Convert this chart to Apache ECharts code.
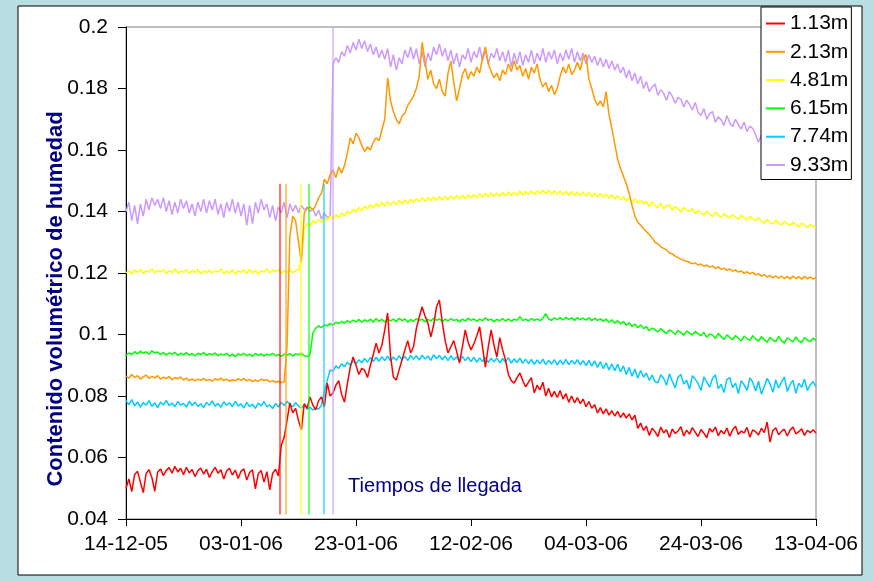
<!DOCTYPE html>
<html><head><meta charset="utf-8">
<script src="https://cdn.jsdelivr.net/npm/echarts@6/dist/echarts.min.js"></script>
<style>html,body{margin:0;padding:0;background:#B9DEE2;}#c{width:874px;height:581px;}</style>
</head><body><div id="c"></div>
<script>
// x axis: days since 14-12-05, one sample every half day
const xTickLabels = ['14-12-05','03-01-06','23-01-06','12-02-06','04-03-06','24-03-06','13-04-06'];
const sampleStep = 0.5;
const seriesNames = ['1.13m','2.13m','4.81m','6.15m','7.74m','9.33m'];
const seriesColors = ['#FF0000','#FF9900','#FFFF00','#00FF00','#00CCFF','#CC99FF'];

const s113 = [
.0500,.0530,.0489,.0545,.0555,.0520,.0486,.0548,.0560,.0535,.0490,.0552,.0563,.0541,.0558,.0567,.0549,.0571,.0553,.0565,
.0544,.0568,.0550,.0561,.0538,.0557,.0566,.0546,.0562,.0535,.0554,.0568,.0549,.0560,.0530,.0556,.0565,.0543,.0559,.0532,
.0555,.0563,.0527,.0551,.0560,.0498,.0547,.0558,.0520,.0554,.0495,.0548,.0562,.0540,.0640,.0665,.0720,.0777,.0745,.0760,
.0720,.0690,.0775,.0760,.0797,.0770,.0755,.0785,.0797,.0765,.0842,.0800,.0810,.0835,.0850,.0805,.0780,.0840,.0894,.0927,
.0900,.0870,.0890,.0884,.0860,.0900,.0935,.0972,.0940,.0965,.1015,.1070,.0930,.0862,.0852,.0885,.0917,.0950,.0980,.0940,
.0960,.1020,.1057,.1090,.1060,.1037,.0992,.1030,.1090,.1112,.1040,.0980,.0940,.0960,.0980,.0945,.0907,.0960,.1015,.0975,
.0950,.0970,.0995,.1025,.0960,.0894,.0960,.1015,.0965,.0927,.0990,.0950,.0917,.0870,.0850,.0842,.0860,.0875,.0850,.0830,
.0845,.0860,.0810,.0835,.0820,.0845,.0800,.0825,.0797,.0815,.0795,.0818,.0790,.0808,.0780,.0800,.0778,.0795,.0775,.0790,
.0765,.0782,.0760,.0772,.0745,.0762,.0742,.0758,.0738,.0752,.0735,.0750,.0730,.0745,.0728,.0742,.0722,.0738,.0695,.0712,
.0688,.0702,.0672,.0695,.0684,.0668,.0699,.0680,.0690,.0665,.0693,.0678,.0686,.0700,.0670,.0689,.0676,.0697,.0682,.0668,
.0691,.0679,.0664,.0694,.0683,.0699,.0671,.0688,.0677,.0696,.0669,.0690,.0702,.0675,.0686,.0680,.0698,.0666,.0690,.0684,
.0673,.0695,.0681,.0715,.0650,.0688,.0697,.0674,.0685,.0692,.0670,.0689,.0699,.0677,.0684,.0693,.0672,.0688,.0681,.0690,
.0680];

const s213 = [
.0865,.0858,.0870,.0860,.0866,.0855,.0862,.0868,.0857,.0864,.0859,.0866,.0855,.0861,.0857,.0863,.0853,.0860,.0856,.0862,
.0852,.0858,.0850,.0856,.0849,.0855,.0851,.0857,.0850,.0854,.0848,.0856,.0852,.0858,.0850,.0855,.0848,.0853,.0849,.0856,
.0851,.0857,.0849,.0854,.0847,.0852,.0848,.0855,.0850,.0853,.0846,.0850,.0844,.0848,.0843,.0846,.0960,.1320,.1385,.1370,
.1300,.1235,.1395,.1410,.1415,.1405,.1420,.1445,.1460,.1505,.1490,.1520,.1535,.1510,.1545,.1525,.1550,.1590,.1640,.1620,
.1655,.1640,.1615,.1595,.1610,.1600,.1625,.1640,.1630,.1665,.1700,.1835,.1760,.1725,.1700,.1685,.1710,.1720,.1745,.1760,
.1775,.1800,.1840,.1950,.1890,.1830,.1860,.1815,.1800,.1830,.1790,.1775,.1850,.1890,.1820,.1760,.1800,.1845,.1865,.1830,
.1855,.1840,.1870,.1850,.1900,.1935,.1880,.1855,.1835,.1850,.1825,.1860,.1845,.1880,.1855,.1890,.1860,.1875,.1840,.1865,
.1830,.1870,.1850,.1880,.1830,.1805,.1820,.1790,.1810,.1780,.1800,.1840,.1870,.1850,.1880,.1845,.1860,.1885,.1860,.1900,
.1910,.1830,.1800,.1765,.1745,.1760,.1740,.1790,.1715,.1670,.1620,.1570,.1540,.1515,.1490,.1460,.1420,.1385,.1365,.1355,
.1345,.1335,.1325,.1315,.1300,.1295,.1285,.1280,.1275,.1265,.1262,.1255,.1250,.1245,.1241,.1238,.1235,.1230,.1233,.1226,
.1229,.1222,.1226,.1219,.1223,.1215,.1220,.1212,.1216,.1209,.1213,.1206,.1210,.1203,.1207,.1199,.1204,.1197,.1202,.1194,
.1198,.1190,.1195,.1187,.1192,.1184,.1191,.1183,.1190,.1182,.1189,.1181,.1190,.1182,.1188,.1180,.1189,.1181,.1187,.1180,
.1185];

const s481 = [
.1200,.1208,.1196,.1210,.1202,.1212,.1199,.1207,.1203,.1214,.1200,.1209,.1204,.1211,.1198,.1208,.1201,.1213,.1200,.1206,
.1203,.1211,.1198,.1209,.1202,.1212,.1197,.1207,.1201,.1210,.1199,.1208,.1203,.1213,.1198,.1206,.1200,.1211,.1197,.1208,
.1202,.1210,.1199,.1212,.1201,.1208,.1196,.1207,.1203,.1213,.1200,.1209,.1204,.1211,.1199,.1207,.1202,.1212,.1200,.1208,
.1210,.1250,.1345,.1360,.1355,.1370,.1362,.1375,.1365,.1380,.1372,.1385,.1375,.1390,.1380,.1395,.1385,.1400,.1393,.1408,
.1398,.1413,.1402,.1418,.1408,.1422,.1412,.1426,.1415,.1430,.1418,.1432,.1420,.1433,.1422,.1436,.1425,.1438,.1427,.1440,
.1430,.1442,.1432,.1445,.1433,.1446,.1435,.1447,.1436,.1448,.1437,.1450,.1438,.1451,.1440,.1452,.1441,.1453,.1442,.1455,
.1444,.1456,.1445,.1458,.1446,.1459,.1448,.1461,.1449,.1460,.1450,.1462,.1451,.1464,.1452,.1463,.1453,.1466,.1454,.1465,
.1455,.1467,.1456,.1468,.1457,.1470,.1458,.1469,.1456,.1468,.1455,.1467,.1454,.1466,.1453,.1465,.1452,.1464,.1451,.1463,
.1450,.1462,.1449,.1460,.1447,.1459,.1446,.1457,.1444,.1455,.1441,.1452,.1438,.1448,.1434,.1445,.1430,.1441,.1427,.1437,
.1425,.1433,.1416,.1431,.1420,.1412,.1427,.1409,.1418,.1422,.1404,.1416,.1410,.1398,.1413,.1405,.1401,.1410,.1393,.1403,
.1396,.1388,.1401,.1392,.1383,.1397,.1389,.1380,.1393,.1385,.1378,.1390,.1382,.1375,.1388,.1379,.1372,.1384,.1376,.1370,
.1380,.1368,.1362,.1374,.1365,.1359,.1371,.1363,.1356,.1368,.1360,.1354,.1366,.1357,.1351,.1362,.1355,.1348,.1358,.1352,
.1348];

const s615 = [
.0932,.0940,.0935,.0944,.0937,.0946,.0939,.0944,.0936,.0947,.0940,.0943,.0935,.0941,.0933,.0940,.0936,.0942,.0932,.0939,
.0934,.0941,.0933,.0938,.0930,.0939,.0935,.0941,.0932,.0938,.0934,.0940,.0931,.0937,.0933,.0939,.0930,.0936,.0928,.0937,
.0933,.0939,.0931,.0936,.0929,.0938,.0932,.0937,.0930,.0936,.0933,.0939,.0931,.0935,.0929,.0936,.0932,.0938,.0930,.0937,
.0934,.0940,.0931,.0928,.0935,.1005,.1020,.1028,.1022,.1032,.1028,.1036,.1030,.1040,.1035,.1043,.1037,.1045,.1039,.1047,
.1041,.1049,.1040,.1048,.1042,.1050,.1040,.1052,.1043,.1049,.1041,.1051,.1044,.1050,.1042,.1053,.1045,.1051,.1040,.1049,
.1043,.1052,.1045,.1050,.1041,.1049,.1044,.1053,.1046,.1051,.1042,.1050,.1044,.1052,.1045,.1049,.1041,.1050,.1044,.1053,
.1046,.1051,.1043,.1050,.1045,.1054,.1046,.1050,.1042,.1049,.1045,.1052,.1044,.1051,.1043,.1050,.1046,.1058,.1045,.1050,
.1044,.1052,.1046,.1051,.1045,.1053,.1068,.1050,.1046,.1054,.1048,.1055,.1047,.1056,.1049,.1054,.1046,.1055,.1048,.1053,
.1047,.1054,.1045,.1053,.1046,.1051,.1043,.1050,.1040,.1048,.1037,.1045,.1034,.1042,.1030,.1038,.1026,.1034,.1022,.1031,
.1019,.1026,.1012,.1021,.1016,.1008,.1019,.1011,.1003,.1015,.1009,.1001,.1013,.1006,.0998,.1012,.1004,.0999,.1010,.1002,
.0996,.1007,.0991,.1002,.0998,.0987,.1004,.0993,.0984,.0999,.0990,.0983,.0997,.0988,.0979,.0995,.0986,.0981,.0996,.0985,
.0978,.0993,.0984,.0975,.0991,.0982,.0977,.0994,.0980,.0972,.0989,.0983,.0976,.0992,.0979,.0974,.0990,.0982,.0977,.0988,
.0981];

const s774 = [
.0785,.0772,.0788,.0768,.0781,.0764,.0779,.0770,.0785,.0766,.0778,.0762,.0780,.0771,.0786,.0769,.0777,.0765,.0782,.0770,
.0776,.0764,.0783,.0769,.0780,.0766,.0775,.0762,.0779,.0770,.0784,.0767,.0776,.0763,.0781,.0770,.0778,.0765,.0783,.0768,
.0774,.0761,.0779,.0766,.0773,.0760,.0777,.0768,.0782,.0765,.0771,.0759,.0776,.0764,.0780,.0769,.0783,.0772,.0765,.0778,
.0768,.0760,.0772,.0757,.0763,.0755,.0760,.0758,.0770,.0815,.0850,.0885,.0880,.0898,.0890,.0905,.0895,.0910,.0900,.0915,
.0905,.0918,.0908,.0922,.0910,.0925,.0912,.0926,.0913,.0928,.0915,.0930,.0914,.0927,.0916,.0931,.0918,.0929,.0915,.0932,
.0919,.0931,.0917,.0933,.0920,.0930,.0916,.0934,.0921,.0932,.0918,.0930,.0915,.0931,.0917,.0928,.0913,.0929,.0915,.0927,
.0912,.0926,.0910,.0924,.0912,.0925,.0909,.0923,.0911,.0924,.0908,.0922,.0910,.0925,.0907,.0921,.0909,.0923,.0906,.0920,
.0905,.0919,.0903,.0917,.0905,.0920,.0902,.0916,.0904,.0918,.0901,.0917,.0903,.0919,.0902,.0916,.0904,.0918,.0901,.0915,
.0899,.0916,.0897,.0914,.0893,.0912,.0889,.0908,.0885,.0905,.0882,.0903,.0878,.0898,.0870,.0893,.0864,.0888,.0858,.0883,
.0862,.0874,.0851,.0868,.0846,.0843,.0869,.0858,.0835,.0872,.0848,.0826,.0861,.0870,.0839,.0851,.0822,.0866,.0855,.0840,
.0818,.0862,.0846,.0829,.0857,.0869,.0824,.0838,.0811,.0853,.0860,.0827,.0842,.0808,.0850,.0836,.0818,.0859,.0845,.0816,
.0848,.0806,.0831,.0857,.0840,.0812,.0852,.0826,.0845,.0862,.0815,.0838,.0851,.0809,.0842,.0828,.0855,.0818,.0836,.0847,
.0830];

const s933 = [
.1400,.1430,.1370,.1420,.1360,.1425,.1385,.1440,.1405,.1445,.1420,.1440,.1410,.1445,.1400,.1435,.1390,.1430,.1395,.1440,
.1410,.1435,.1395,.1425,.1385,.1430,.1400,.1440,.1395,.1435,.1405,.1440,.1390,.1425,.1380,.1430,.1400,.1440,.1395,.1430,
.1385,.1425,.1355,.1420,.1360,.1430,.1395,.1440,.1405,.1425,.1380,.1420,.1370,.1415,.1395,.1430,.1380,.1425,.1400,.1420,
.1395,.1420,.1405,.1415,.1400,.1410,.1385,.1405,.1375,.1395,.1380,.1385,.1880,.1900,.1885,.1920,.1905,.1940,.1915,.1950,
.1925,.1960,.1930,.1955,.1920,.1945,.1910,.1935,.1900,.1925,.1895,.1930,.1870,.1910,.1860,.1900,.1880,.1925,.1900,.1935,
.1895,.1930,.1880,.1920,.1870,.1915,.1890,.1935,.1910,.1945,.1905,.1930,.1890,.1925,.1880,.1915,.1870,.1910,.1895,.1930,
.1885,.1920,.1900,.1935,.1890,.1925,.1880,.1915,.1900,.1930,.1890,.1920,.1885,.1925,.1870,.1915,.1880,.1920,.1875,.1910,
.1885,.1925,.1880,.1915,.1890,.1930,.1885,.1920,.1895,.1925,.1880,.1915,.1890,.1925,.1895,.1930,.1885,.1920,.1890,.1915,
.1880,.1910,.1885,.1905,.1875,.1900,.1870,.1895,.1865,.1890,.1860,.1880,.1850,.1870,.1835,.1860,.1825,.1850,.1815,.1840,
.1800,.1822,.1790,.1805,.1815,.1778,.1796,.1785,.1762,.1790,.1775,.1752,.1771,.1765,.1740,.1762,.1748,.1730,.1755,.1722,
.1712,.1735,.1700,.1718,.1725,.1690,.1708,.1698,.1680,.1712,.1688,.1676,.1700,.1682,.1668,.1691,.1660,.1678,.1670,.1650,
.1625,.1650,.1620,.1640,.1615,.1635,.1605,.1630,.1600,.1625,.1595,.1615,.1590,.1610,.1585,.1605,.1580,.1600,.1575,.1595,
.1580];

// arrival times (days since 14-12-05) and vertical marker extents
const arrivalDays = [26.8, 27.8, 30.4, 31.8, 34.4, 35.9];
const arrivalTops = [0.149, 0.149, 0.149, 0.149, 0.149, 0.2];
const arrivalBottom = 0.0415;

const allData = [s113, s213, s481, s615, s774, s933];
const FONT = "'Liberation Sans', Arial, sans-serif";

const series = seriesNames.map((name, k) => ({
  name: name,
  type: 'line',
  data: allData[k].map((v, i) => [i * sampleStep, v]),
  showSymbol: false,
  symbol: 'none',
  lineStyle: { color: seriesColors[k], width: 1.5 },
  itemStyle: { color: seriesColors[k] },
  markLine: {
    silent: true,
    symbol: ['none', 'none'],
    label: { show: false },
    lineStyle: { color: seriesColors[k], width: 1.5, type: 'solid', opacity: 0.75 },
    data: [[{ coord: [arrivalDays[k], arrivalBottom] }, { coord: [arrivalDays[k], arrivalTops[k]] }]]
  }
})).reverse();

const chart = echarts.init(document.getElementById('c'));
chart.setOption({
  animation: false,
  backgroundColor: '#B9DEE2',
  textStyle: { fontFamily: FONT },
  graphic: [
    { type: 'rect', z: -10, shape: { x: 18, y: 6, width: 844, height: 569 },
      style: { fill: '#FFFFFF', stroke: '#000000', lineWidth: 1 } },
    { type: 'text', x: 56, y: 299, rotation: Math.PI / 2,
      style: { text: 'Contenido volumétrico de humedad', font: 'bold 22px ' + FONT, fill: '#000080',
               align: 'center', verticalAlign: 'middle' } },
    { type: 'text', x: 435, y: 486,
      style: { text: 'Tiempos de llegada', font: '20px ' + FONT, fill: '#000080',
               align: 'center', verticalAlign: 'middle' } }
  ],
  legend: {
    data: seriesNames,
    orient: 'vertical',
    left: 761, top: 7,
    icon: 'rect', itemWidth: 19, itemHeight: 2, itemGap: 7.3,
    padding: [6, 3, 4, 5],
    backgroundColor: '#FFFFFF', borderColor: '#000000', borderWidth: 1,
    textStyle: { fontSize: 21, color: '#000000', fontFamily: FONT, lineHeight: 21 }
  },
  grid: { left: 126, right: 58, top: 27, bottom: 62, show: true, borderColor: '#808080', borderWidth: 1, backgroundColor: 'transparent' },
  xAxis: {
    type: 'value', min: 0, max: 120, interval: 20,
    axisLine: { show: true, lineStyle: { color: '#000000', width: 1 } },
    axisTick: { show: true, length: 7, lineStyle: { color: '#000000' } },
    splitLine: { show: false },
    axisLabel: { fontSize: 21, color: '#000000', fontFamily: FONT, margin: 15,
                 formatter: v => xTickLabels[Math.round(v / 20)] }
  },
  yAxis: {
    type: 'value', min: 0.04, max: 0.2, interval: 0.02,
    axisLine: { show: true, lineStyle: { color: '#000000', width: 1 } },
    axisTick: { show: true, length: 8, lineStyle: { color: '#000000' } },
    splitLine: { show: false },
    axisLabel: { fontSize: 21, color: '#000000', fontFamily: FONT, margin: 18 }
  },
  series: series
});
</script>
</body></html>
